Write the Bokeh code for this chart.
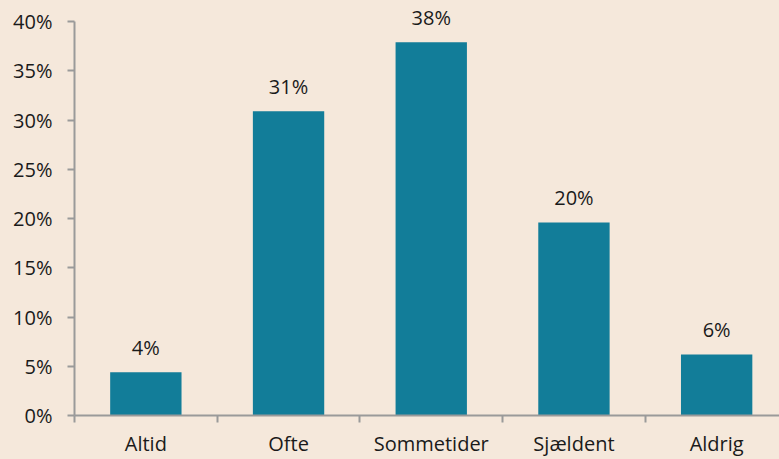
from bokeh.plotting import figure
from bokeh.models import Range1d, FixedTicker, LabelSet, ColumnDataSource, NumeralTickFormatter
from bokeh.core.properties import value
from bokeh.embed import file_html
from bokeh.resources import INLINE

categories = ["Altid", "Ofte", "Sommetider", "Sjældent", "Aldrig"]
shares = [0.044, 0.309, 0.379, 0.196, 0.062]
y_ticks = [0.0, 0.05, 0.10, 0.15, 0.20, 0.25, 0.30, 0.35, 0.40]

BG = "#F5E8DB"
BAR = "#127D99"
AXIS = "#9A9A9A"
FONT = "Open Sans"

centers = [i + 0.5 for i in range(len(categories))]
bounds = [i for i in range(len(categories) + 1)]
labels = [f"{round(v * 100)}%" for v in shares]

src = ColumnDataSource(dict(x=centers, y=shares, lab=labels))

W, H = 779, 459
left, bottom = 74, 44
frame_w = W - left
frame_h = H - bottom
unit_px = 142.7
axis_top_px = 21  # pixel row of the 40% tick
y_max = y_ticks[-1]
y_end = y_max * frame_h / (frame_h - axis_top_px)

p = figure(width=W, height=H, output_backend="svg", toolbar_location=None,
           x_range=Range1d(0, frame_w / unit_px), y_range=Range1d(0, y_end),
           min_border_left=left, min_border_top=0, min_border_bottom=bottom,
           min_border_right=0, background_fill_color=BG, border_fill_color=BG,
           outline_line_color=None)

p.vbar(x="x", top="y", width=0.5, bottom=0, source=src, fill_color=BAR, line_color=None)

p.add_layout(LabelSet(x="x", y="y", text="lab", source=src, text_align="center",
                      text_baseline="alphabetic", y_offset=17, text_font=value(FONT),
                      text_font_size=value("20px"), text_color=value("#1a1a1a")))

p.xgrid.visible = False
p.ygrid.visible = False

xa = p.xaxis[0]
xa.ticker = FixedTicker(ticks=centers, minor_ticks=bounds)
xa.major_label_overrides = {c: n for c, n in zip(centers, categories)}
xa.major_tick_out = 0
xa.major_tick_in = 0
xa.minor_tick_out = 7
xa.minor_tick_in = 0
xa.minor_tick_line_color = AXIS
xa.minor_tick_line_width = 2
xa.axis_line_color = AXIS
xa.axis_line_width = 2
xa.major_label_standoff = 7
xa.major_label_text_font = FONT
xa.major_label_text_font_size = "20px"
xa.major_label_text_color = "#1a1a1a"

ya = p.yaxis[0]
ya.ticker = FixedTicker(ticks=y_ticks, minor_ticks=[])
ya.bounds = (0, y_max)
ya.formatter = NumeralTickFormatter(format="0%")
ya.major_tick_out = 7
ya.major_tick_in = 0
ya.major_tick_line_color = AXIS
ya.major_tick_line_width = 2
ya.minor_tick_line_color = None
ya.axis_line_color = AXIS
ya.axis_line_width = 2
ya.major_label_standoff = 15
ya.major_label_text_font = FONT
ya.major_label_text_font_size = "20px"
ya.major_label_text_color = "#1a1a1a"

html = file_html(p, INLINE)
html = html.replace("<body>", f'<body style="background-color:{BG}">')
open("out.html", "w").write(html)
